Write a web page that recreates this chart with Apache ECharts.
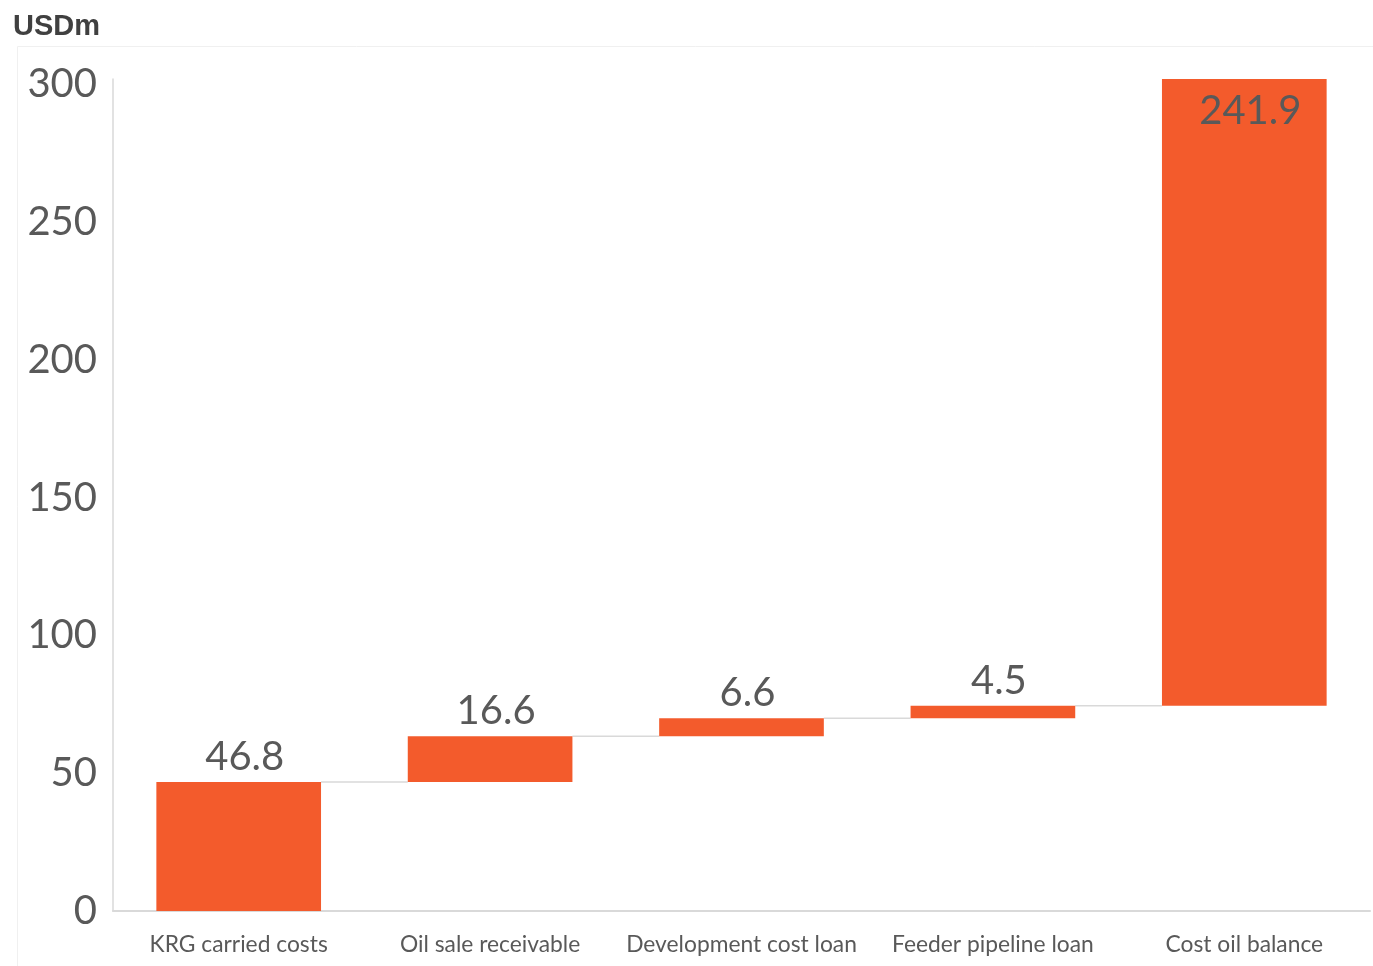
<!DOCTYPE html>
<html>
<head>
<meta charset="utf-8">
<script src="https://cdn.jsdelivr.net/npm/echarts@6/dist/echarts.min.js"></script>
<style>html,body{margin:0;padding:0;background:#fff;}#c{width:1373px;height:966px;}</style>
</head>
<body>
<div id="c"></div>
<script>
var categories = ['KRG carried costs', 'Oil sale receivable', 'Development cost loan', 'Feeder pipeline loan', 'Cost oil balance'];
var values = [46.8, 16.6, 6.6, 4.5, 241.9];
var bases = [0, 46.8, 63.4, 70.0, 74.5];
var connectorLevels = [46.8, 63.4, 70.0, 74.5];
var yTicks = [0, 50, 100, 150, 200, 250, 300];

var BAR_RATIO = 0.655;
var chart = echarts.init(document.getElementById('c'));
chart.setOption({
  animation: false,
  backgroundColor: '#fff',
  title: {
    text: 'USDm', left: 8, top: 7,
    textStyle: { fontFamily: 'Liberation Sans', fontWeight: 'bold', fontSize: 29, color: '#404040' }
  },
  graphic: [{
    type: 'rect', left: 15, top: 44, shape: { width: 1400, height: 1000 },
    style: { fill: 'none', stroke: '#f0f0f0', lineWidth: 1 }, silent: true, z: -1
  }],
  grid: { left: 113, right: 3, top: 79, bottom: 55 },
  xAxis: {
    type: 'category', data: categories,
    axisLine: { lineStyle: { color: '#d9d9d9', width: 2 } },
    axisTick: { show: false },
    axisLabel: { fontFamily: 'Lato', fontSize: 22.8, color: '#595959', margin: 22, interval: 0 }
  },
  yAxis: {
    type: 'value', min: 0, max: 302, interval: 50,
    axisLine: { show: true, lineStyle: { color: '#d9d9d9', width: 1.5 } },
    splitLine: { show: false },
    axisTick: { show: false },
    axisLabel: {
      fontFamily: 'Lato', fontSize: 40, color: '#595959', margin: 16,
      formatter: function (v) { return yTicks.indexOf(v) >= 0 ? String(v) : ''; }
    }
  },
  series: [
    {
      type: 'bar', stack: 'w', data: bases, barWidth: (BAR_RATIO * 100) + '%',
      itemStyle: { color: 'transparent' }, silent: true
    },
    {
      type: 'bar', stack: 'w', barWidth: (BAR_RATIO * 100) + '%', clip: true,
      data: values.map(function (v, i) {
        var last = i === values.length - 1;
        return {
          value: v,
          label: last ? { position: 'insideTop', distance: 12 } : { position: 'top', distance: 5 }
        };
      }),
      itemStyle: { color: '#F35B2C' },
      label: {
        show: true, fontFamily: 'Lato', fontSize: 40, color: '#595959', offset: [6, 0],
        formatter: function (p) { return p.value.toFixed(1); }
      }
    },
    {
      type: 'custom', silent: true, z: 1,
      data: connectorLevels.map(function (l, i) { return [i, l]; }),
      renderItem: function (params, api) {
        var i = api.value(0), lvl = api.value(1);
        var p1 = api.coord([i, lvl]);
        var p2 = api.coord([i + 1, lvl]);
        var half = api.size([1, 0])[0] * BAR_RATIO / 2;
        return {
          type: 'line',
          shape: { x1: p1[0] + half, y1: p1[1], x2: p2[0] - half, y2: p2[1] },
          style: { stroke: '#d9d9d9', lineWidth: 1.5 }
        };
      }
    }
  ]
});
</script>
</body>
</html>
